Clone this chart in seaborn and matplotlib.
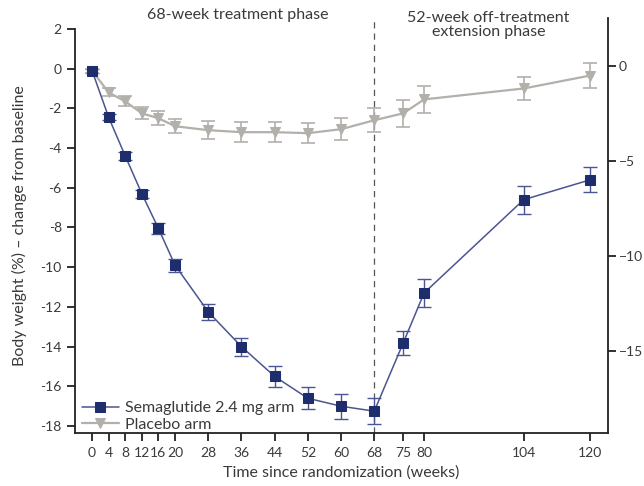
import matplotlib
matplotlib.use("Agg")
import matplotlib.pyplot as plt
import seaborn as sns
import pandas as pd

weeks = [0, 4, 8, 12, 16, 20, 28, 36, 44, 52, 60, 68, 75, 80, 104, 120]
sema = [-0.1, -2.45, -4.4, -6.3, -8.05, -9.9, -12.25, -14.0, -15.5, -16.6, -17.0, -17.25, -13.8, -11.3, -6.6, -5.6]
sema_err = [0.1, 0.15, 0.2, 0.2, 0.27, 0.32, 0.4, 0.46, 0.55, 0.55, 0.63, 0.64, 0.6, 0.7, 0.7, 0.63]
placebo = [-0.1, -1.2, -1.65, -2.25, -2.5, -2.9, -3.1, -3.2, -3.2, -3.25, -3.05, -2.6, -2.25, -1.55, -1.0, -0.35]
placebo_err = [0.1, 0.2, 0.25, 0.3, 0.35, 0.35, 0.45, 0.5, 0.5, 0.5, 0.55, 0.6, 0.69, 0.69, 0.6, 0.62]
left_ticks = [2, 0, -2, -4, -6, -8, -10, -12, -14, -16, -18]
right_ticks = [0, -5, -10, -15]
right_labels = ["0", "\u22125", "\u221210", "\u221215"]
series_names = ["Semaglutide 2.4 mg arm", "Placebo arm"]

df = pd.DataFrame({
    "week": weeks * 2,
    "value": sema + placebo,
    "arm": [series_names[0]] * len(weeks) + [series_names[1]] * len(weeks),
})

sns.set_theme(style="ticks")
plt.rcParams['font.family'] = ['Lato', 'DejaVu Sans']
TXT = "#3a3a3a"
BLUE = "#1e2d6b"
BLUE_LINE = "#4b5590"
GREY = "#b3b0ab"

fig = plt.figure(figsize=(6.44, 4.86), dpi=100)
ax = fig.add_axes([0.1165, 0.109, 0.8275, 0.854])

ax.errorbar(weeks, sema, yerr=sema_err, fmt="none", ecolor=BLUE_LINE, elinewidth=1, capsize=5, capthick=1, zorder=2)
ax.errorbar(weeks, placebo, yerr=placebo_err, fmt="none", ecolor=GREY, elinewidth=1.2, capsize=5, capthick=1.2, zorder=2)

sns.lineplot(data=df[df.arm == series_names[0]], x="week", y="value", ax=ax, color=BLUE_LINE,
             marker="s", markersize=7.5, markerfacecolor=BLUE, markeredgecolor=BLUE, linewidth=1.1,
             label=series_names[0], zorder=4)
sns.lineplot(data=df[df.arm == series_names[1]], x="week", y="value", ax=ax, color=GREY,
             marker="v", markersize=7, markeredgecolor=GREY, linewidth=1.6, label=series_names[1], zorder=3)

ax.axvline(68, color="#555555", linestyle=(0, (5, 4)), linewidth=0.9, zorder=1)

ax.set_xlim(-4.1, 124.3)
ax.set_ylim(-18.35, 2.55)
ax.set_xticks(weeks)
ax.set_xticklabels([str(w) for w in weeks])
ax.set_yticks(left_ticks)
ax.set_yticklabels([str(t) for t in left_ticks])
ax.spines["top"].set_visible(False)
ax.spines["right"].set_visible(False)
ax.spines["left"].set_bounds(-18.35, 2.0)
for s in ["left", "bottom"]:
    ax.spines[s].set_linewidth(1.3)
    ax.spines[s].set_color("#222222")
ax.tick_params(axis="both", direction="out", length=6, width=1.3, color="#222222",
               labelsize=10, labelcolor=TXT)
ax.tick_params(axis="x", pad=4)

ax.set_xlabel("Time since randomization (weeks)", fontsize=11.5, color=TXT, labelpad=5)
ax.set_ylabel("Body weight (%) \u2013 change from baseline", fontsize=11.5, color=TXT, labelpad=10)

ax2 = ax.twinx()
ax2.set_ylim(-19.32, 2.53)
ax2.set_yticks(right_ticks)
ax2.set_yticklabels(right_labels)
for s in ["top", "left", "bottom"]:
    ax2.spines[s].set_visible(False)
ax2.spines["right"].set_linewidth(1.3)
ax2.spines["right"].set_color("#222222")
ax2.tick_params(axis="y", direction="out", length=6, width=1.3, color="#222222",
                labelsize=10, labelcolor=TXT, pad=2)

ax.text(35, 2.68, "68-week treatment phase", ha="center", va="center", fontsize=11.5, color=TXT)
ax.text(95.5, 2.2, "52-week off-treatment\nextension phase", ha="center", va="center",
        fontsize=11.5, color=TXT, linespacing=1.0)

h, l = ax.get_legend_handles_labels()
leg = ax.legend(h, l, loc="lower left", bbox_to_anchor=(-0.005, -0.02), frameon=False, fontsize=11.5,
                handlelength=2.3, handletextpad=0.4, labelspacing=0.15, borderaxespad=0.2)
for t in leg.get_texts():
    t.set_color(TXT)

fig.savefig("out.png", dpi=100)
